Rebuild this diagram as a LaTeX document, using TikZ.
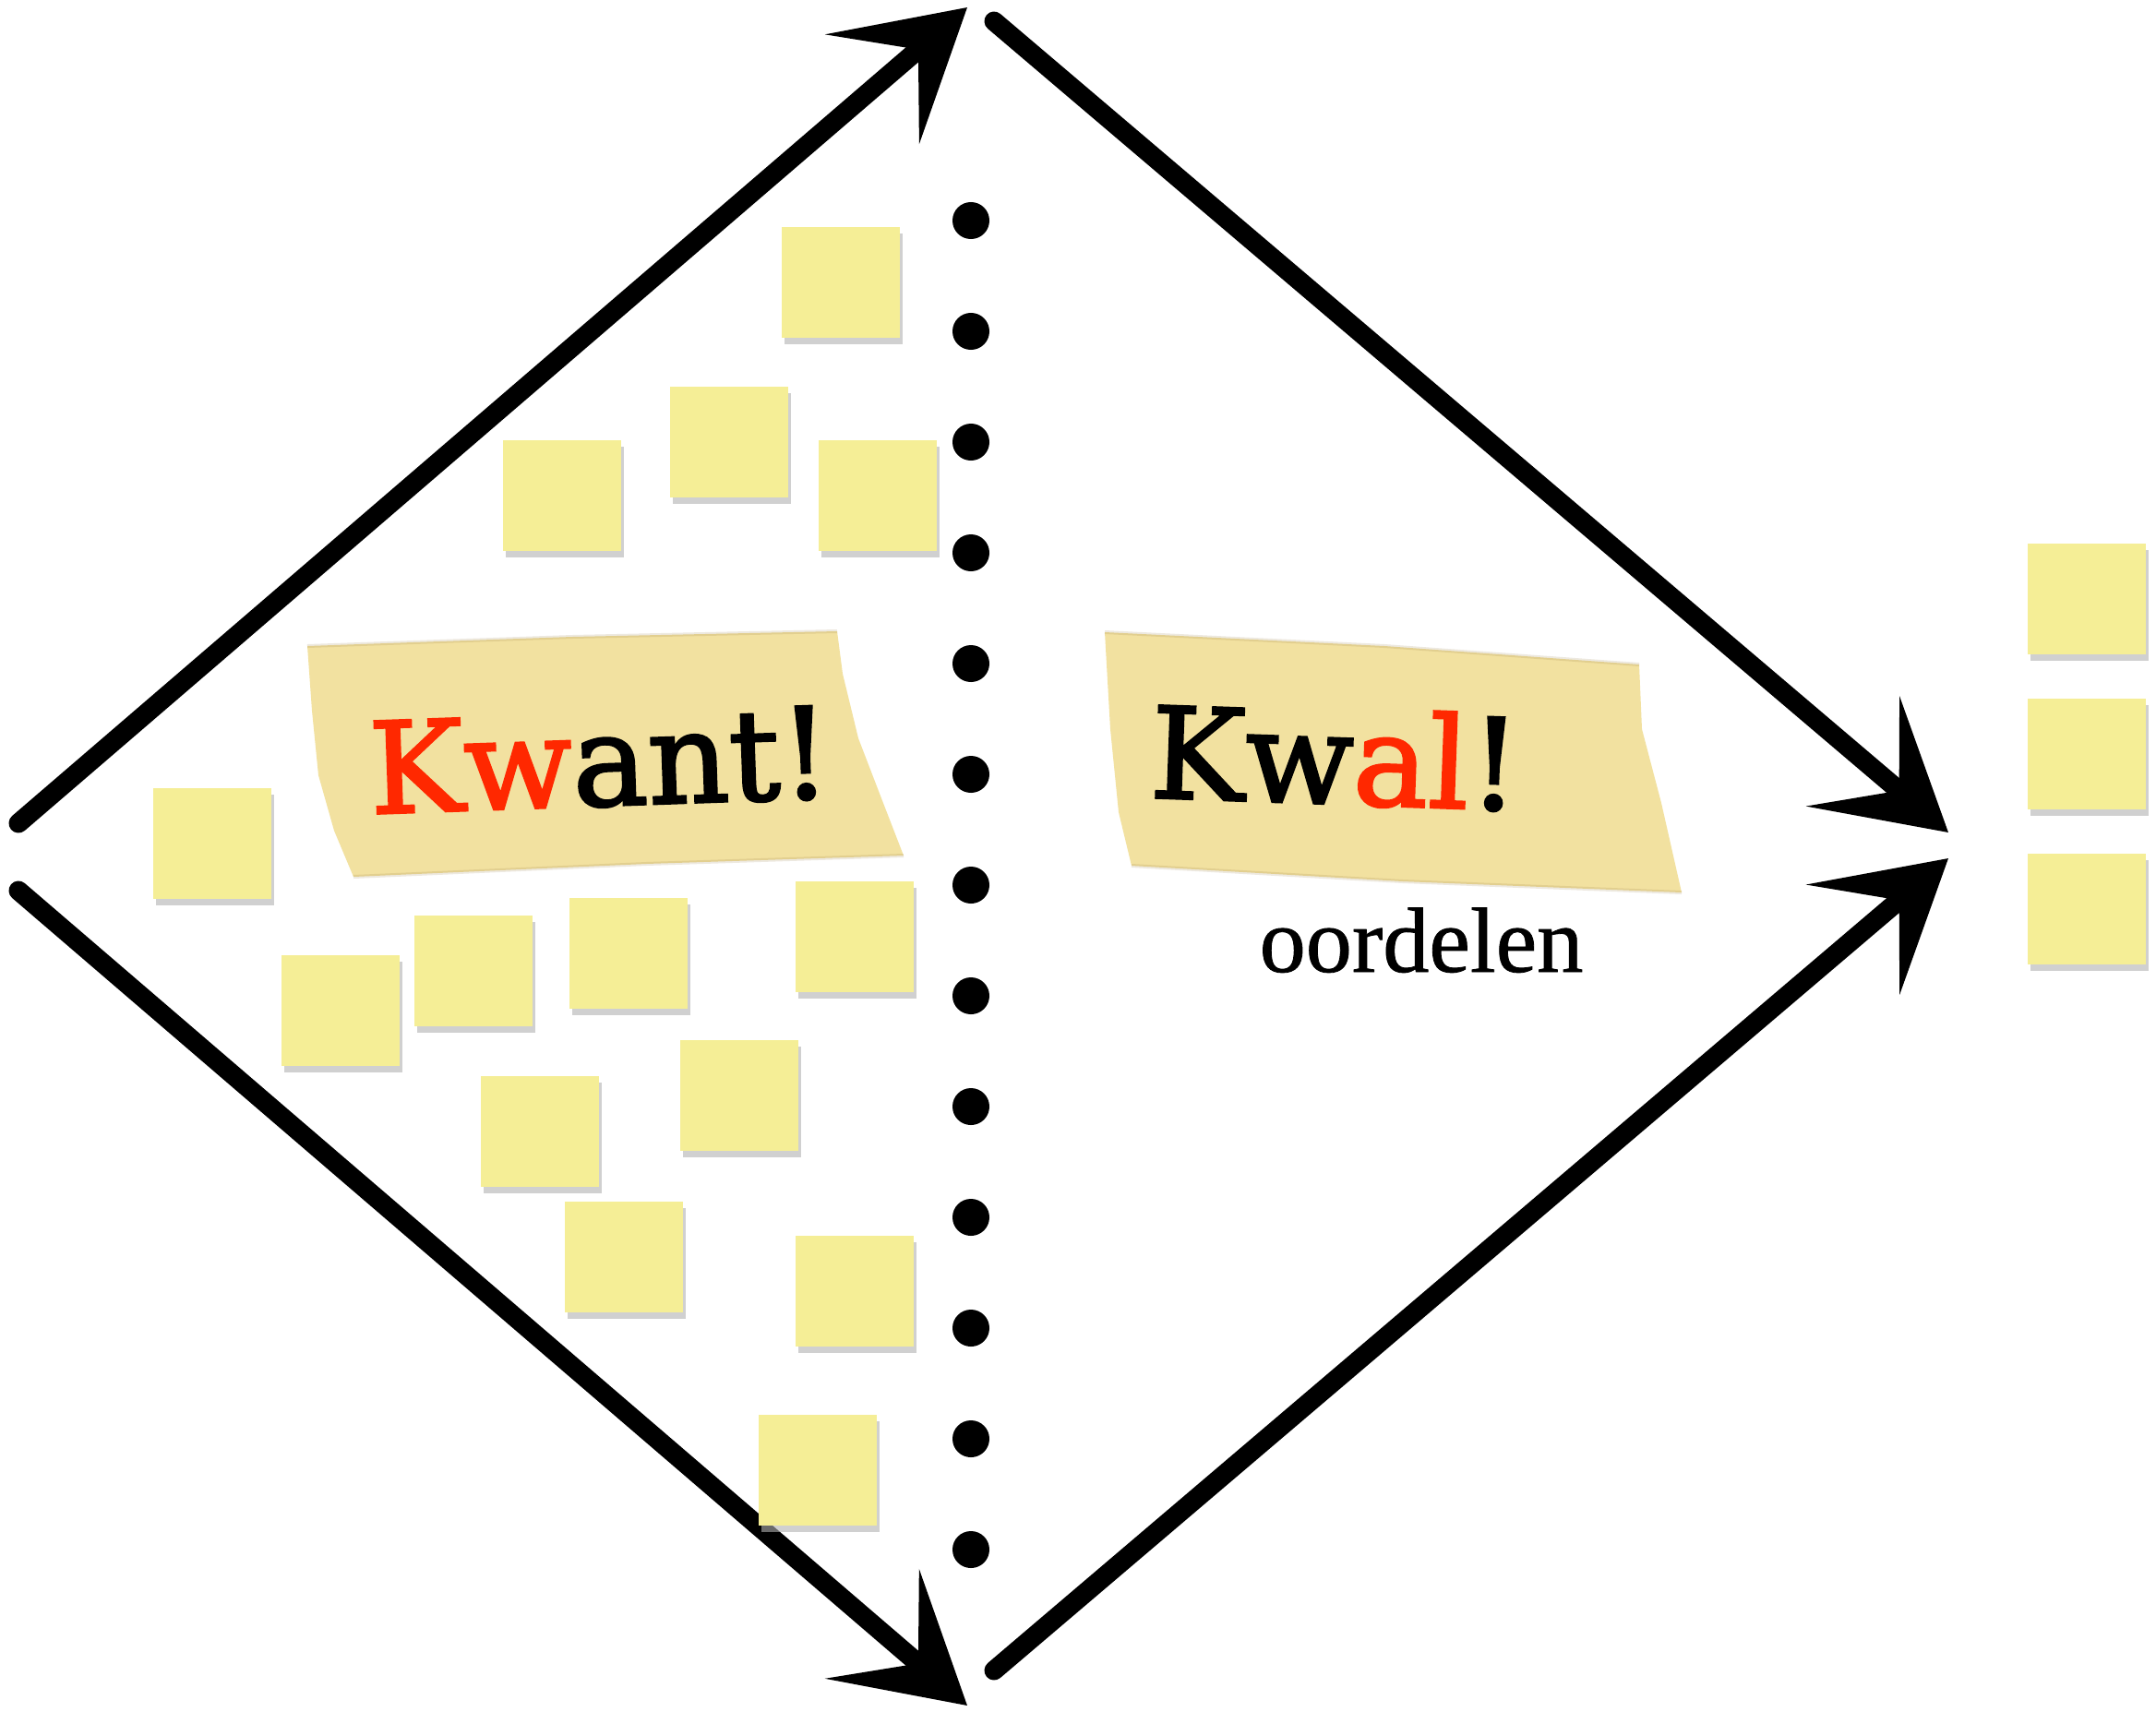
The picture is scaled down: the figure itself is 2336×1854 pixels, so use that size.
\documentclass[tikz,border=0pt]{standalone}
\usepackage{fontspec}
\usepackage{xcolor}
\usepackage{tikz}
\usetikzlibrary{arrows.meta, positioning, shadows}

\setmainfont{Liberation Serif}
\newfontfamily\typefont{DejaVu Serif}[FakeBold=2]
\newfontfamily\notefont{Liberation Serif}[FakeBold=0.8]

\definecolor{stickyyellow}{RGB}{245,238,150}
\definecolor{tapecolor}{RGB}{242,225,160}
\definecolor{tapeedge}{RGB}{140,110,50}
\definecolor{kwred}{RGB}{255,40,0}

\tikzset{
  sticky/.style={fill=stickyyellow, minimum width=1.27cm, minimum height=1.2cm, inner sep=0pt,
    drop shadow={shadow xshift=0.03cm, shadow yshift=-0.07cm, fill=black!30, opacity=0.6}},
  dot/.style={circle, fill=black, minimum size=0.4cm, inner sep=0pt},
  chalk/.style={line width=0.21cm, line cap=round, -{Stealth[length=1.35cm, width=1.55cm, inset=0.65cm]}},
  tape/.style={fill=tapecolor},
  tapeline/.style={tapeedge, opacity=0.15, line width=0.04cm},
  tapetext/.style={font=\typefont\fontsize{39}{42}\selectfont, inner sep=0pt},
  note/.style={font=\notefont\fontsize{28.5}{30}\selectfont, inner sep=0pt}
}

\begin{document}
\begin{tikzpicture}[x=0.01cm, y=-0.01cm, node distance=1.68cm, on grid]
  \useasboundingbox[fill=white] (0,0) rectangle (2336,1854);

  % arrows
  \coordinate (in1) at (20,892);
  \coordinate (in2) at (20,965);
  \coordinate (top) at (1048,8);
  \coordinate (bot) at (1048,1848);
  \coordinate (top2) at (1077,23);
  \coordinate (bot2) at (1077,1810);
  \coordinate (out1) at (2111,902);
  \coordinate (out2) at (2111,930);

  \draw[chalk] (in1) -- (top);
  \draw[chalk] (in2) -- (bot);
  \draw[chalk] (top2) -- (out1);
  \draw[chalk] (bot2) -- (out2);

  % dotted divider
  \foreach \i in {0,...,12}
    \node[dot] (d\i) at (1052,{239+120*\i}) {};

  % sticky notes
  \foreach \n/\x/\y in {1/911/306, 2/790/479, 3/609/537, 4/951/537, 5/230/914,
                        6/926/1015, 7/369/1095, 8/513/1052, 9/681/1033, 10/585/1226,
                        11/801/1187, 12/676/1362, 13/926/1399, 14/886/1593}
    \node[sticky] (s\n) at (\x,\y) {};

  \node[sticky] (r1) at (2261,649) {};
  \node[sticky] (r2) [below=of r1] {};
  \node[sticky] (r3) [below=of r2] {};

  % tapes
  \fill[tape] (333,700) -- (620,690) -- (907,684) -- (913,730) -- (930,800) -- (955,865)
    -- (979,927) -- (700,936) -- (383,950) -- (362,900) -- (345,840) -- (338,770) -- cycle;
  \draw[tapeline] (333,700) -- (620,690) -- (907,684);
  \draw[tapeline] (979,927) -- (700,936) -- (383,950);
  \node[tapetext, rotate=2] (kwant) at (650,824) {\textcolor{kwred}{Kw}ant!};

  \fill[tape] (1197,685) -- (1500,700) -- (1776,720) -- (1779,790) -- (1800,870)
    -- (1822,967) -- (1520,955) -- (1226,938) -- (1212,880) -- (1203,790) -- cycle;
  \draw[tapeline] (1197,685) -- (1500,700) -- (1776,720);
  \draw[tapeline] (1822,967) -- (1520,955) -- (1226,938);
  \node[tapetext, rotate=-2] (kwal) at (1447,820) {Kw\textcolor{kwred}{al}!};

  \node[note, anchor=base] (oordelen) at (1540,1053) {oordelen};
\end{tikzpicture}
\end{document}
